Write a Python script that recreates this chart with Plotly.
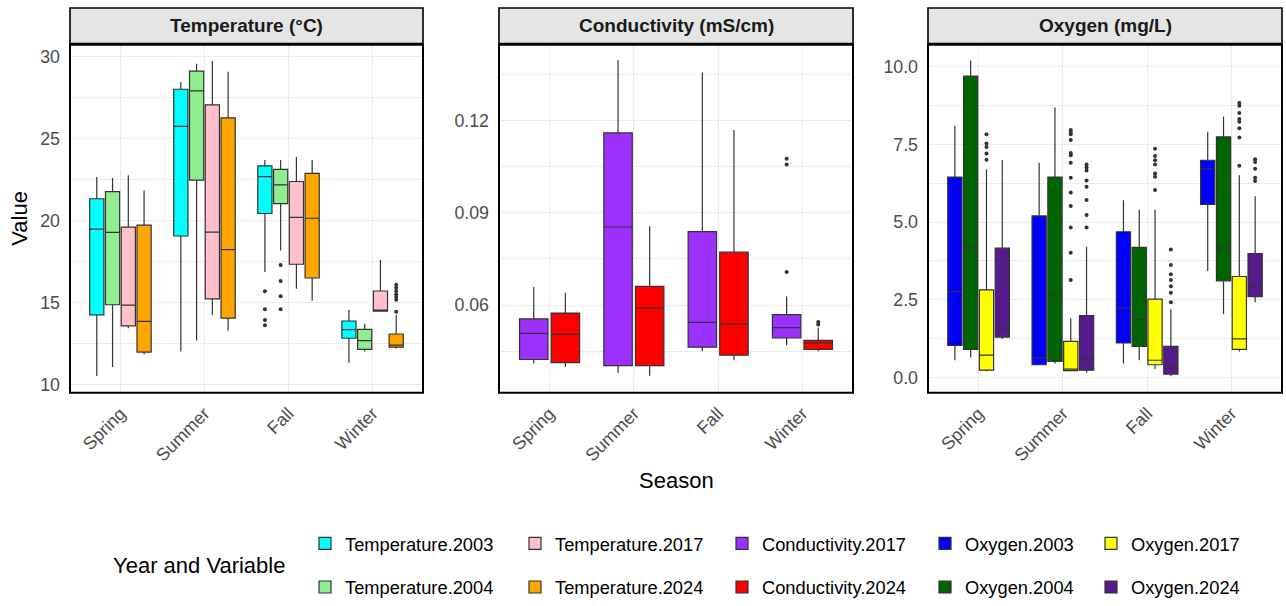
import plotly.graph_objects as go

W, H = 1286, 606
FONT = "Liberation Sans"

seasons = ["Spring", "Summer", "Fall", "Winter"]

# ---------------- Temperature (°C) ----------------
t2003_lf = [10.52, 12.02, 16.85, 11.33]
t2003_q1 = [14.25, 19.05, 20.42, 12.82]
t2003_md = [19.47, 25.73, 22.67, 13.35]
t2003_q3 = [21.32, 27.99, 23.32, 13.87]
t2003_uf = [22.65, 28.43, 23.68, 14.55]
t2003_out = [[], [], [15.68, 14.59, 13.93, 13.61], []]

t2004_lf = [11.07, 12.68, 18.16, 12.02]
t2004_q1 = [14.86, 22.45, 21.02, 12.14]
t2004_md = [19.27, 27.89, 22.17, 12.68]
t2004_q3 = [21.75, 29.09, 23.11, 13.36]
t2004_uf = [22.59, 29.54, 23.68, 13.71]
t2004_out = [[], [], [17.29, 16.31, 15.38, 14.59], []]

t2017_lf = [13.43, 14.23, 15.84, 14.47]
t2017_q1 = [13.57, 15.22, 17.33, 14.47]
t2017_md = [14.84, 19.29, 20.19, 14.52]
t2017_q3 = [19.59, 27.04, 22.37, 15.70]
t2017_uf = [22.75, 29.72, 23.86, 17.59]
t2017_out = [[], [], [], []]

t2024_lf = [11.85, 13.29, 15.10, 12.20]
t2024_q1 = [11.98, 14.05, 16.49, 12.28]
t2024_md = [13.85, 18.22, 20.13, 12.40]
t2024_q3 = [19.71, 26.25, 22.87, 13.08]
t2024_uf = [21.82, 29.06, 23.68, 14.25]
t2024_out = [[], [], [], [16.08, 15.90, 15.70, 15.50, 15.35, 15.17, 14.43]]

# ---------------- Conductivity (mS/cm) ----------------
c2017_lf = [0.0410, 0.0380, 0.0450, 0.0469]
c2017_q1 = [0.0423, 0.0403, 0.0463, 0.0493]
c2017_md = [0.0508, 0.0854, 0.0544, 0.0527]
c2017_q3 = [0.0555, 0.1160, 0.0839, 0.0569]
c2017_uf = [0.0659, 0.1396, 0.1356, 0.0628]
c2017_out = [[], [], [], [0.1076, 0.1057, 0.0708]]

c2024_lf = [0.0399, 0.0370, 0.0421, 0.0450]
c2024_q1 = [0.0413, 0.0403, 0.0437, 0.0456]
c2024_md = [0.0505, 0.0590, 0.0538, 0.0477]
c2024_q3 = [0.0574, 0.0661, 0.0772, 0.0485]
c2024_uf = [0.0639, 0.0856, 0.1169, 0.0526]
c2024_out = [[], [], [], [0.0545, 0.0537]]

# ---------------- Oxygen (mg/L) ----------------
o2003_lf = [0.555, 0.40, 0.45, 3.43]
o2003_q1 = [1.03, 0.41, 1.11, 5.57]
o2003_md = [2.76, 0.63, 2.23, 6.71]
o2003_q3 = [6.45, 5.20, 4.69, 6.99]
o2003_uf = [8.10, 6.91, 5.70, 7.91]
o2003_out = [[], [], [], []]

o2004_lf = [0.64, 0.45, 0.555, 2.04]
o2004_q1 = [0.906, 0.52, 1.00, 3.11]
o2004_md = [4.21, 2.63, 1.86, 4.17]
o2004_q3 = [9.70, 6.45, 4.19, 7.74]
o2004_uf = [10.20, 8.69, 5.40, 8.40]
o2004_out = [[], [], [], []]

o2017_lf = [0.20, 0.20, 0.27, 0.84]
o2017_q1 = [0.236, 0.22, 0.41, 0.906]
o2017_md = [0.72, 0.27, 0.555, 1.24]
o2017_q3 = [2.82, 1.16, 2.52, 3.25]
o2017_uf = [6.70, 1.91, 5.40, 6.51]
o2017_out = [[7.83, 7.53, 7.42, 7.21, 7.01],
             [7.96, 7.90, 7.83, 7.64, 7.22, 7.15, 6.91, 6.43, 5.95, 5.52, 4.83, 4.01, 3.14],
             [7.36, 7.13, 6.99, 6.85, 6.56, 6.46, 6.03],
             [8.83, 8.74, 8.51, 8.32, 8.23, 8.02, 7.72, 6.81]]

o2024_lf = [1.24, 0.15, 0.05, 2.42]
o2024_q1 = [1.30, 0.236, 0.11, 2.60]
o2024_md = [1.54, 0.61, 0.32, 2.95]
o2024_q3 = [4.16, 1.99, 1.00, 3.99]
o2024_uf = [7.00, 4.20, 2.20, 5.83]
o2024_out = [[], [6.85, 6.76, 6.66, 6.34, 6.14, 5.71, 5.23, 4.83],
             [4.12, 3.62, 3.32, 3.14, 2.94, 2.73, 2.42],
             [7.02, 6.93, 6.72, 6.43, 6.32]]

panel_titles = ["Temperature (°C)", "Conductivity (mS/cm)", "Oxygen (mg/L)"]

series = [
    ("Temperature.2003", "#00FFFF", 1, t2003_lf, t2003_q1, t2003_md, t2003_q3, t2003_uf, t2003_out, "legend"),
    ("Temperature.2004", "#90EE90", 1, t2004_lf, t2004_q1, t2004_md, t2004_q3, t2004_uf, t2004_out, "legend2"),
    ("Temperature.2017", "#FFC0CB", 1, t2017_lf, t2017_q1, t2017_md, t2017_q3, t2017_uf, t2017_out, "legend3"),
    ("Temperature.2024", "#FFA500", 1, t2024_lf, t2024_q1, t2024_md, t2024_q3, t2024_uf, t2024_out, "legend4"),
    ("Conductivity.2017", "#9B30FF", 2, c2017_lf, c2017_q1, c2017_md, c2017_q3, c2017_uf, c2017_out, "legend5"),
    ("Conductivity.2024", "#FF0000", 2, c2024_lf, c2024_q1, c2024_md, c2024_q3, c2024_uf, c2024_out, "legend6"),
    ("Oxygen.2003", "#0000FF", 3, o2003_lf, o2003_q1, o2003_md, o2003_q3, o2003_uf, o2003_out, "legend7"),
    ("Oxygen.2004", "#006400", 3, o2004_lf, o2004_q1, o2004_md, o2004_q3, o2004_uf, o2004_out, "legend8"),
    ("Oxygen.2017", "#FFFF00", 3, o2017_lf, o2017_q1, o2017_md, o2017_q3, o2017_uf, o2017_out, "legend9"),
    ("Oxygen.2024", "#551A8B", 3, o2024_lf, o2024_q1, o2024_md, o2024_q3, o2024_uf, o2024_out, "legend10"),
]

fig = go.Figure()
for name, color, p, lf, q1, md, q3, uf, out, leg in series:
    sfx = "" if p == 1 else str(p)
    # plotly needs a non-empty sample list per box; the median sits inside the
    # fences, so it is never drawn as an outlier.
    pts = [o if o else [m] for o, m in zip(out, md)]
    fig.add_trace(go.Box(
        name=name, x=seasons, y=pts,
        q1=q1, median=md, q3=q3, lowerfence=lf, upperfence=uf,
        boxpoints="outliers", jitter=0, pointpos=0,
        fillcolor=color, line=dict(color="#333333", width=1.2),
        whiskerwidth=0,
        marker=dict(color="#333333", size=4, line=dict(width=0)),
        xaxis="x" + sfx, yaxis="y" + sfx, legend=leg, showlegend=True,
        alignmentgroup="panel" + str(p), offsetgroup=name,
        hoverinfo="skip",
    ))

panels_px = [(70, 423), (499, 853), (928, 1282)]
ptop, pbot = 45, 396
ydom = [1 - pbot / H, 1 - ptop / H]

grid = "#EBEBEB"
tickfont = dict(family=FONT, size=17.8, color="#4D4D4D")
layout = dict(
    width=W, height=H, margin=dict(l=0, r=0, t=0, b=0),
    paper_bgcolor="white", plot_bgcolor="white",
    boxmode="group", boxgap=0.25, boxgroupgap=0.1,
    font=dict(family=FONT, color="black"),
)

yspecs = [
    dict(range=[9.5, 30.71], tick0=0, dtick=5, minor=dict(dtick=2.5)),
    dict(range=[0.0315, 0.1447], tick0=0.06, dtick=0.03, tickformat=".2f", minor=dict(tick0=0.06, dtick=0.015)),
    dict(range=[-0.49, 10.71], tick0=0, dtick=2.5, tickformat=".1f", minor=dict(dtick=1.25)),
]

for i, ((x0, x1), ys) in enumerate(zip(panels_px, yspecs)):
    sfx = "" if i == 0 else str(i + 1)
    layout["xaxis" + sfx] = dict(
        domain=[x0 / W, x1 / W], anchor="y" + sfx, type="category",
        categoryorder="array", categoryarray=seasons, range=[-0.6, 3.6],
        showgrid=True, gridcolor=grid, gridwidth=1.3, zeroline=False,
        showline=False, ticks="", tickangle=-45, tickfont=tickfont,
        ticklabelstandoff=6,
    )
    minor = dict(showgrid=True, gridcolor=grid, gridwidth=0.7)
    minor.update(ys.pop("minor"))
    yax = dict(
        domain=ydom, anchor="x" + sfx, showgrid=True, gridcolor=grid, gridwidth=1.3,
        zeroline=False, showline=False, ticks="", tickfont=tickfont,
        ticklabelstandoff=9, minor=minor,
    )
    yax.update(ys)
    layout["yaxis" + sfx] = yax

shapes = []
annotations = []
for i, title in enumerate(panel_titles):
    sfx = "" if i == 0 else str(i + 1)
    shapes.append(dict(type="rect", xref="x" + sfx + " domain", yref="paper",
                       x0=0, x1=1, y0=1 - 44 / H, y1=1 - 8 / H,
                       fillcolor="#E5E5E5", line=dict(color="black", width=1.6), layer="above"))
    shapes.append(dict(type="rect", xref="x" + sfx + " domain", yref="y" + sfx + " domain",
                       x0=0, x1=1, y0=0, y1=1,
                       line=dict(color="black", width=2), layer="above"))
    annotations.append(dict(text="<b>" + title + "</b>", xref="x" + sfx + " domain", yref="paper",
                            x=0.5, y=1 - 26 / H, showarrow=False, xanchor="center", yanchor="middle",
                            font=dict(family=FONT, size=19, color="#1A1A1A")))

annotations += [
    dict(text="Value", xref="paper", yref="paper", x=20 / W, y=1 - 220.5 / H, textangle=-90,
         showarrow=False, xanchor="center", yanchor="middle", font=dict(family=FONT, size=22, color="black")),
    dict(text="Season", xref="paper", yref="paper", x=676 / W, y=1 - 484 / H,
         showarrow=False, xanchor="center", yanchor="middle", font=dict(family=FONT, size=22, color="black")),
    dict(text="Year and Variable", xref="paper", yref="paper", x=199 / W, y=1 - 570 / H,
         showarrow=False, xanchor="center", yanchor="middle", font=dict(family=FONT, size=22, color="black")),
]

col_text_x = [345, 555, 762, 965, 1131]
row_y = [548, 592]
for k, s in enumerate(series):
    leg = s[-1]
    col, row = k // 2, k % 2
    layout[leg] = dict(
        x=(col_text_x[col] - 40) / W, y=1 - row_y[row] / H,
        xanchor="left", yanchor="middle", orientation="v",
        bgcolor="rgba(0,0,0,0)", borderwidth=0,
        font=dict(family=FONT, size=18.3, color="black"),
    )

layout["shapes"] = shapes
layout["annotations"] = annotations
fig.update_layout(**layout)

fig.write_html("out.html")
